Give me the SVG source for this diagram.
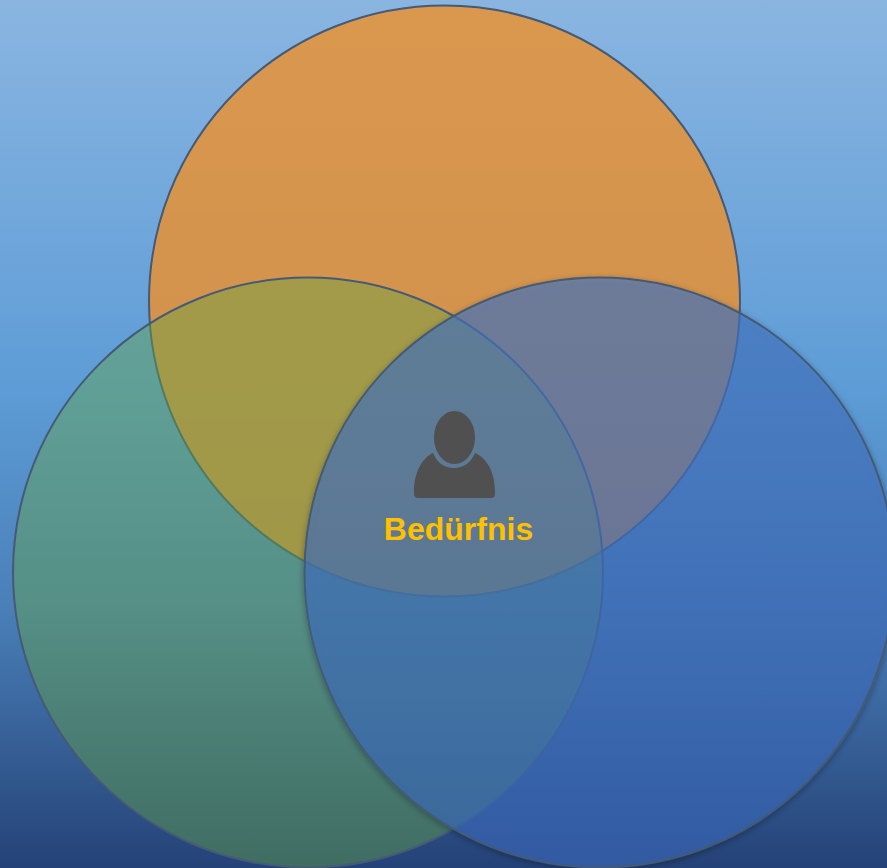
<svg xmlns="http://www.w3.org/2000/svg" width="887" height="868" viewBox="0 0 887 868">
<style>
.c{stroke:#445a75;stroke-width:2}
.l{font-family:"Liberation Sans",Arial,sans-serif;font-weight:700;font-size:32px;fill:#ffc000}
.i{fill:#505050}
</style>
<defs>
<linearGradient id="bg" x1="0" y1="0" x2="0" y2="1">
<stop offset="0" stop-color="#8ab5e1"/>
<stop offset="0.45" stop-color="#5d9cd6"/>
<stop offset="0.7" stop-color="#4a7fb8"/>
<stop offset="1" stop-color="#244277"/>
</linearGradient>
<linearGradient id="bl" x1="0" y1="0" x2="0" y2="1">
<stop offset="0" stop-color="#4678c6"/>
<stop offset="1" stop-color="#3c6cc0"/>
</linearGradient>
<filter id="s" x="-5%" y="-5%" width="110%" height="110%">
<feDropShadow dx="0" dy="2" stdDeviation="3" flood-color="#000" flood-opacity="0.4"/>
</filter>
</defs>
<rect width="887" height="868" fill="url(#bg)"/>
<g id="circle-orange"><circle class="c" cx="444.5" cy="301" r="295.5" fill="#ef9029" fill-opacity="0.8"/></g>
<g id="circle-green"><circle class="c" cx="308" cy="572.5" r="295" fill="#64a346" fill-opacity="0.44"/></g>
<g id="circle-blue"><circle class="c" cx="599.5" cy="572.5" r="295" fill="url(#bl)" fill-opacity="0.6" filter="url(#s)"/></g>
<g id="node-beduerfnis">
<ellipse class="i" cx="454.5" cy="437.5" rx="20.5" ry="26.5"/>
<path class="i" d="M433 453C424 457 414 470 414 492V494Q414 498 418 498H491Q495 498 495 494V492C495 470 485 457 475 453C471 463 463 468 454 468C445 468 437 463 433 453Z"/>
<text class="l" x="458.5" y="540" text-anchor="middle">Bedürfnis</text>
</g>
<g id="connectors"/>
</svg>
